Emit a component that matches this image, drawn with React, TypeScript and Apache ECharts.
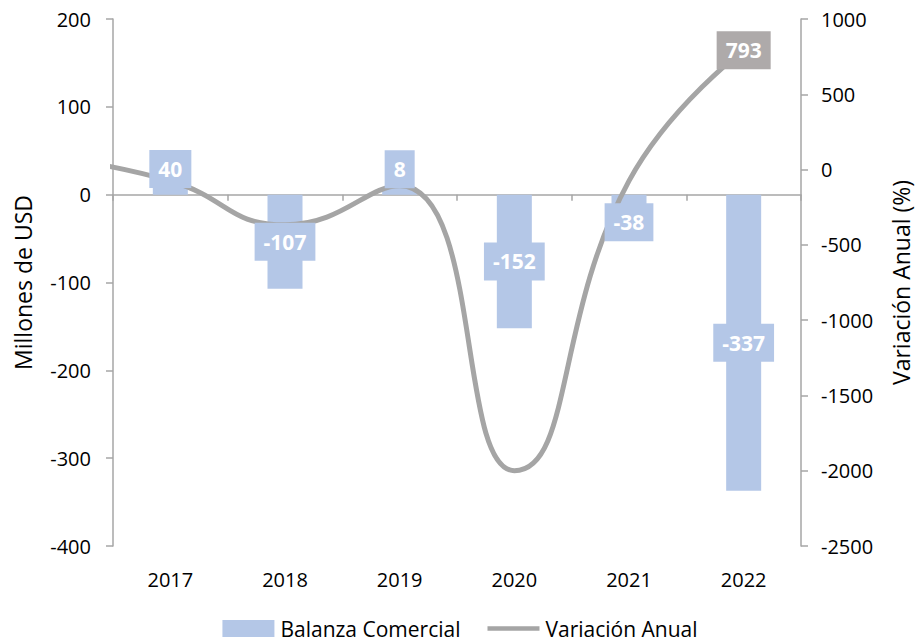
import React, { useEffect, useRef } from "react";
import * as echarts from "echarts";

// Categories (years) shown on the axis
const years = ["2017", "2018", "2019", "2020", "2021", "2022"];
// Balanza Comercial, millones de USD
const balanza = [40, -107, 8, -152, -38, -337];
// Variación anual (%); first value is the prior year (2016), drawn off the left edge of the plot
const variacionYears = ["2016", "2017", "2018", "2019", "2020", "2021", "2022"];
const variacion = [80, -76, -367, -107, -2000, -75, 793];
// Left and right axis tick ranges
const leftTicks = { min: -400, max: 200, interval: 100 };
const rightTicks = { min: -2500, max: 1000, interval: 500 };

const FONT = "Open Sans";

export default function App() {
  const ref = useRef<HTMLDivElement>(null);

  useEffect(() => {
    if (!ref.current) return;
    const chart = echarts.init(ref.current, undefined, { renderer: "svg" });

    const labelOffsets: Record<number, number> = { 0: -8, 2: -22, 4: 11 };
    const barColor = "#B4C7E7";
    const lineColor = "#A5A5A5";
    const axisGray = "#A6A6A6";
    const TICK = 20;
    const TITLE = 23;
    const LEG = 21;

    const barLabelData = balanza.map((v, i) => ({
      value: v,
      label: { offset: [0, labelOffsets[i] || 0] },
    }));

    const lineData = variacion.map((v, i) => [i - 0.5, v]);
    const last = variacion.length - 1;
    const lastPoint = [[last - 0.5, variacion[last]]];

    chart.setOption({
      animation: false,
      textStyle: { fontFamily: FONT },
      grid: { left: 113, right: 115, top: 19, bottom: 95, containLabel: false },
      legend: {
        data: [
          { name: "Balanza Comercial", icon: "rect" },
          {
            name: "Variación Anual",
            icon: "path://M0 0H56V5H0Z",
            itemStyle: { color: lineColor },
          },
        ],
        left: "center",
        top: 613,
        itemWidth: 52,
        itemHeight: 17,
        itemGap: 27,
        textStyle: { fontSize: LEG, lineHeight: 21, color: "#000", fontFamily: FONT, padding: [0, 0, 0, 1] },
      },
      xAxis: [
        {
          type: "category",
          data: years,
          axisLine: { show: true, onZero: true, lineStyle: { color: axisGray, width: 1.5 } },
          axisTick: { show: true, interval: 0, alignWithLabel: false, length: 6, inside: false, lineStyle: { color: axisGray, width: 1.5 } },
          axisLabel: { show: false },
          splitLine: { show: false },
        },
        {
          type: "category",
          data: years,
          position: "bottom",
          axisLine: { show: false, onZero: false },
          axisTick: { show: false },
          axisLabel: { show: true, fontSize: TICK, color: "#000", fontFamily: FONT, margin: 23 },
          splitLine: { show: false },
        },
        {
          type: "value",
          min: 0,
          max: 6,
          show: false,
          position: "top",
        },
      ],
      yAxis: [
        {
          type: "value",
          min: leftTicks.min,
          max: leftTicks.max,
          interval: leftTicks.interval,
          name: "Millones de USD",
          nameLocation: "middle",
          nameRotate: 90,
          nameGap: 79,
          nameTextStyle: { fontSize: TITLE, color: "#000", fontFamily: FONT },
          axisLine: { show: true, lineStyle: { color: axisGray, width: 1.5 } },
          axisTick: { show: true, length: 7, inside: false, lineStyle: { color: axisGray, width: 1.5 } },
          axisLabel: { fontSize: TICK, color: "#000", fontFamily: FONT, margin: 22 },
          splitLine: { show: false },
        },
        {
          type: "value",
          position: "right",
          min: rightTicks.min,
          max: rightTicks.max,
          interval: rightTicks.interval,
          name: "Variación Anual (%)",
          nameLocation: "middle",
          nameRotate: 90,
          nameGap: 88,
          nameTextStyle: { fontSize: TITLE, color: "#000", fontFamily: FONT },
          axisLine: { show: true, lineStyle: { color: axisGray, width: 1.5 } },
          axisTick: { show: true, length: 7, inside: false, lineStyle: { color: axisGray, width: 1.5 } },
          axisLabel: {
            fontSize: TICK,
            color: "#000",
            fontFamily: FONT,
            margin: 20,
            formatter: (v: number) => String(v),
          },
          splitLine: { show: false },
        },
      ],
      series: [
        {
          name: "Balanza Comercial",
          type: "bar",
          xAxisIndex: 0,
          yAxisIndex: 0,
          data: balanza,
          barWidth: 35,
          barGap: "-100%",
          itemStyle: { color: barColor },
          z: 2,
        },
        {
          name: "Variación Anual",
          type: "line",
          xAxisIndex: 2,
          yAxisIndex: 1,
          data: lineData,
          smooth: 0.5,
          symbol: "none",
          showSymbol: false,
          clip: true,
          lineStyle: { color: lineColor, width: 5 },
          itemStyle: { color: lineColor },
          z: 3,
        },
        {
          name: "Variación Anual etiqueta",
          type: "scatter",
          xAxisIndex: 2,
          yAxisIndex: 1,
          data: lastPoint,
          symbolSize: 1,
          itemStyle: { color: "rgba(0,0,0,0)", opacity: 1 },
          label: {
            show: true,
            position: "inside",
            formatter: (p: any) => String(p.value[1]),
            color: "#fff",
            fontWeight: "bold",
            fontSize: TICK + 1,
            fontFamily: FONT,
            backgroundColor: "#AEAAAA",
            opacity: 1,
            padding: [9, 9],
            lineHeight: 20,
          },
          emphasis: { disabled: true },
          z: 6,
        },
        {
          name: "Balanza Comercial",
          type: "bar",
          xAxisIndex: 0,
          yAxisIndex: 0,
          data: barLabelData,
          barWidth: 35,
          barGap: "-100%",
          itemStyle: { color: "rgba(0,0,0,0)" },
          label: {
            show: true,
            position: "inside",
            color: "#fff",
            fontWeight: "bold",
            fontSize: TICK + 1,
            fontFamily: FONT,
            backgroundColor: barColor,
            padding: [9, 9],
            lineHeight: 20,
          },
          z: 5,
        },
      ],
    });

    return () => chart.dispose();
  }, []);

  return (
    <div
      ref={ref}
      style={{ position: "absolute", left: 0, top: 0, width: 920, height: 641 }}
    />
  );
}
